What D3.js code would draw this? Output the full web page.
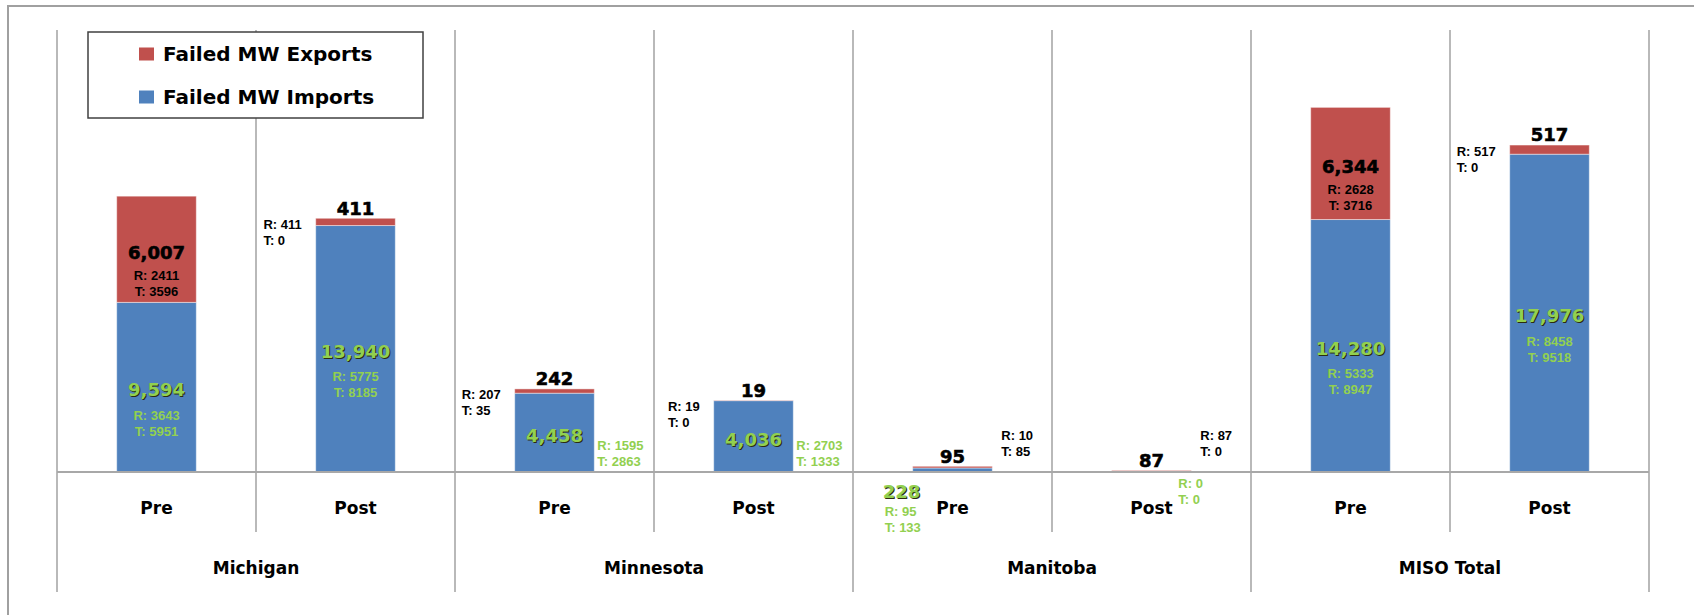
<!DOCTYPE html>
<html>
<head>
<meta charset="utf-8">
<script src="https://cdn.jsdelivr.net/npm/d3@7"></script>
<style>
  html, body { margin: 0; padding: 0; background: #fff; }
  svg { display: block; }
</style>
</head>
<body>
<svg id="chart" width="1694" height="615"></svg>
<script>
// Regions and study phases
const groups = ["Michigan", "Minnesota", "Manitoba", "MISO Total"];
const phases = ["Pre", "Post"];

// Failed MW imports (blue) per region/phase, with R / T breakdown
const imports  = [9594, 13940, 4458, 4036, 228, 0, 14280, 17976];
const importsR = [3643, 5775, 1595, 2703, 95, 0, 5333, 8458];
const importsT = [5951, 8185, 2863, 1333, 133, 0, 8947, 9518];

// Failed MW exports (red) per region/phase, with R / T breakdown
const exports  = [6007, 411, 242, 19, 95, 87, 6344, 517];
const exportsR = [2411, 411, 207, 19, 10, 87, 2628, 517];
const exportsT = [3596, 0, 35, 0, 85, 0, 3716, 0];

const seriesNames = ["Failed MW Exports", "Failed MW Imports"];

// Where each data label sits relative to its bar segment
const exportLabelMode = ["inside", "above-left", "above-left", "above-left", "above-right", "above-right", "inside", "above-left"];
const importLabelMode = ["inside", "inside", "inside-right", "inside-right", "below-left", "below-right", "inside", "inside"];

const COLORS = { exports: "#C0504D", imports: "#4F81BD", green: "#92D050", grid: "#a8a8a8" };
const BIG_FONT = "'DejaVu Sans', Verdana, sans-serif";
const SMALL_FONT = "'Liberation Sans', Arial, sans-serif";

const svg = d3.select("#chart");
const slots = groups.flatMap(g => phases.map(p => g + "|" + p));

const plot = { left: 57, right: 1649, top: 30, base: 472 };

const x = d3.scaleBand().domain(slots).range([plot.left, plot.right]).paddingInner(0.6).paddingOuter(0.3);
const xg = d3.scaleBand().domain(groups).range([plot.left, plot.right]);
const y = d3.scaleLinear().domain([0, 25000]).range([plot.base, plot.top]);

// Outer chart frame
svg.append("path")
  .attr("d", "M8,615 V6 H1694")
  .attr("fill", "none").attr("stroke", "#a0a0a0").attr("stroke-width", 2);

// Vertical separators: group boundaries run down through the region labels,
// phase boundaries stop under the Pre/Post labels
const half = (x.step() - x.bandwidth()) / 2;
const gridG = svg.append("g").attr("stroke", COLORS.grid).attr("stroke-width", 1.6);
groups.forEach((g) => {
  const gx = xg(g);
  gridG.append("line").attr("x1", gx).attr("x2", gx).attr("y1", plot.top).attr("y2", 592);
  const mid = x(g + "|Post") - half;
  gridG.append("line").attr("x1", mid).attr("x2", mid).attr("y1", plot.top).attr("y2", 532);
});
gridG.append("line").attr("x1", plot.right).attr("x2", plot.right).attr("y1", plot.top).attr("y2", 592);

// Stacked bars (thin light edge like the spreadsheet bar outline)
const bars = svg.append("g").attr("stroke", "rgba(255,255,255,0.45)").attr("stroke-width", 1);
slots.forEach((key, i) => {
  bars.append("rect")
    .attr("x", x(key)).attr("width", x.bandwidth())
    .attr("y", y(imports[i])).attr("height", y(0) - y(imports[i]))
    .attr("fill", COLORS.imports);
  bars.append("rect")
    .attr("x", x(key)).attr("width", x.bandwidth())
    .attr("y", y(imports[i] + exports[i])).attr("height", y(imports[i]) - y(imports[i] + exports[i]))
    .attr("fill", COLORS.exports);
});

// Category baseline
svg.append("line")
  .attr("x1", plot.left).attr("x2", plot.right)
  .attr("y1", y(0)).attr("y2", y(0))
  .attr("stroke", COLORS.grid).attr("stroke-width", 2);

// Phase labels (Pre / Post) and region labels from bottom axes
const phaseAxis = d3.axisBottom(x).tickSize(0).tickFormat(d => d.split("|")[1]);
svg.append("g").attr("transform", `translate(0,${y(0)})`).call(phaseAxis)
  .call(g => g.select(".domain").remove())
  .selectAll("text")
  .attr("y", 36).attr("dy", "0.35em")
  .attr("font-family", BIG_FONT).attr("font-weight", "bold").attr("font-size", 17).attr("fill", "#000");

const groupAxis = d3.axisBottom(xg).tickSize(0);
svg.append("g").attr("transform", `translate(0,${y(0)})`).call(groupAxis)
  .call(g => g.select(".domain").remove())
  .selectAll("text")
  .attr("y", 96).attr("dy", "0.35em")
  .attr("font-family", BIG_FONT).attr("font-weight", "bold").attr("font-size", 17).attr("fill", "#000");

// Data labels
const fmt = d3.format(",");
const labels = svg.append("g");

function bigText(px, py, txt, color, anchor = "middle") {
  if (color !== "#000") {
    labels.append("text")
      .attr("x", px + 1).attr("y", py + 1).attr("dy", "0.35em")
      .attr("text-anchor", anchor)
      .attr("font-family", BIG_FONT).attr("font-weight", "bold").attr("font-size", 18)
      .attr("fill", "#2b2b10").text(txt);
  }
  labels.append("text")
    .attr("x", px).attr("y", py).attr("dy", "0.35em")
    .attr("text-anchor", anchor)
    .attr("font-family", BIG_FONT).attr("font-weight", "bold").attr("font-size", 18)
    .attr("fill", color)
    .attr("stroke", color === "#000" ? "#000" : "none").attr("stroke-width", 0.6)
    .text(txt);
}

// Two-line "R: / T:" block; returns the group so it can be shifted after measuring
function smallPair(px, py, lines, color, anchor = "middle") {
  const g = labels.append("g").attr("transform", `translate(${px},${py})`);
  lines.forEach((t, k) => {
    g.append("text")
      .attr("x", 0).attr("y", k * 16).attr("dy", "0.35em")
      .attr("text-anchor", anchor)
      .attr("font-family", SMALL_FONT).attr("font-weight", "bold").attr("font-size", 13)
      .attr("fill", color).text(t);
  });
  return g;
}

slots.forEach((key, i) => {
  const x0 = x(key), x1 = x0 + x.bandwidth(), cx = x0 + x.bandwidth() / 2;
  const base = y(0), iTop = y(imports[i]), eTop = y(imports[i] + exports[i]);

  // exports (black text)
  const eLines = ["R: " + exportsR[i], "T: " + exportsT[i]];
  const eMode = exportLabelMode[i];
  if (eMode === "inside") {
    const cy = (eTop + iTop) / 2;
    bigText(cx, cy + 3, fmt(exports[i]), "#000");
    smallPair(cx, cy + 26, eLines, "#000");
  } else {
    bigText(cx, eTop - 10, fmt(exports[i]), "#000");
    if (eMode === "above-left") {
      const g = smallPair(0, eTop + 6, eLines, "#000", "start");
      const w = g.node().getBBox().width;
      g.attr("transform", `translate(${x0 - 14 - w},${eTop + 6})`);
    } else {
      smallPair(x1 + 9, base - 37, eLines, "#000", "start");
    }
  }

  // imports (green text)
  const iLines = ["R: " + importsR[i], "T: " + importsT[i]];
  const iMode = importLabelMode[i];
  if (iMode === "inside" || iMode === "inside-right") {
    const cy = (iTop + base) / 2;
    bigText(cx, cy + 3, fmt(imports[i]), COLORS.green);
    if (iMode === "inside") smallPair(cx, cy + 28, iLines, COLORS.green);
    else smallPair(x1 + 3, base - 27, iLines, COLORS.green, "start");
  } else if (iMode === "below-left") {
    bigText(x0 - 30, base + 20, fmt(imports[i]), COLORS.green, "start");
    smallPair(x0 - 28, base + 39, iLines, COLORS.green, "start");
  } else {
    smallPair(x1 - 13, base + 11, iLines, COLORS.green, "start");
  }
});

// Legend
const legend = svg.append("g");
legend.append("rect")
  .attr("x", 88).attr("y", 32).attr("width", 335).attr("height", 86)
  .attr("fill", "#fff").attr("stroke", "#404040").attr("stroke-width", 1.5);
const legendColors = [COLORS.exports, COLORS.imports];
seriesNames.forEach((name, k) => {
  const cy = 54 + k * 43;
  legend.append("rect")
    .attr("x", 139).attr("y", cy - 6.5).attr("width", 15).attr("height", 13)
    .attr("fill", legendColors[k]);
  legend.append("text")
    .attr("x", 163).attr("y", cy).attr("dy", "0.36em")
    .attr("font-family", BIG_FONT).attr("font-weight", "bold").attr("font-size", 20)
    .attr("fill", "#000").text(name);
});
</script>
</body>
</html>
